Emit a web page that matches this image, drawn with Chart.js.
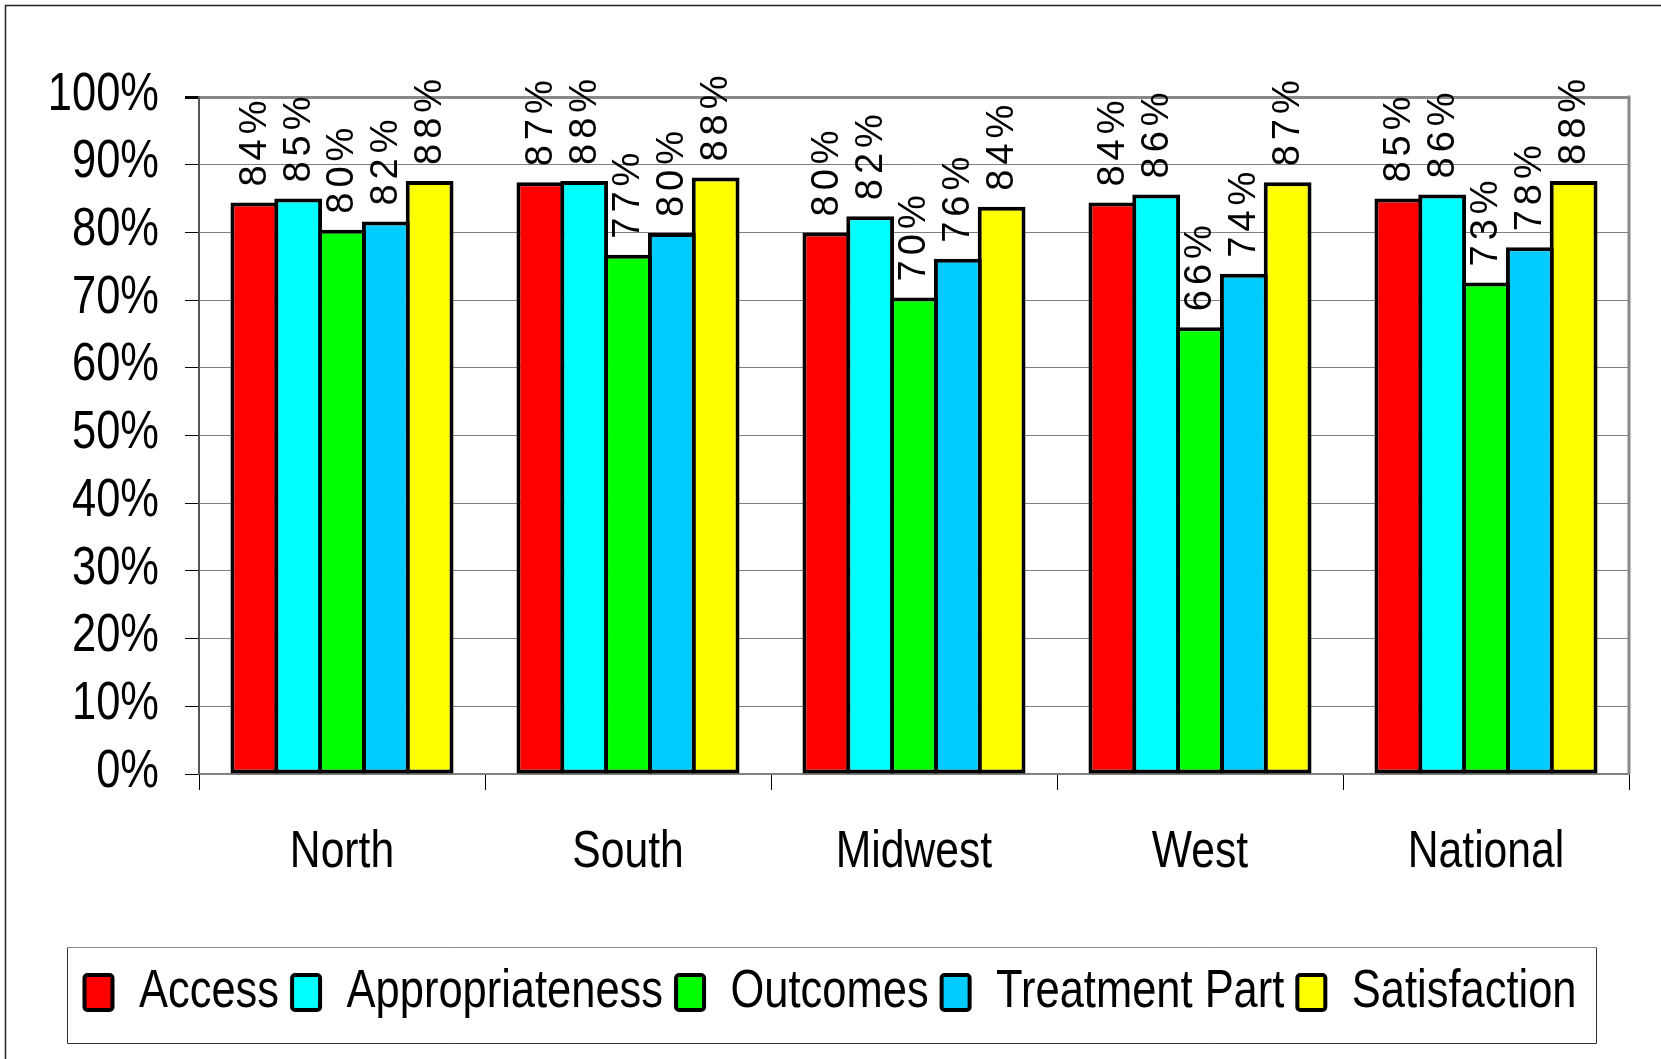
<!DOCTYPE html>
<html>
<head>
<meta charset="utf-8">
<title>Scores by region</title>
<script src="https://cdn.jsdelivr.net/npm/chart.js@4.4.1/dist/chart.umd.min.js"></script>
<style>
  html, body { margin: 0; padding: 0; background: #fff; }
  #chart { display: block; }
</style>
</head>
<body>
<canvas id="chart" width="1661" height="1059"></canvas>
<script>
const regions = ["North", "South", "Midwest", "West", "National"];
const seriesNames = ["Access", "Appropriateness", "Outcomes", "Treatment Part", "Satisfaction"];

// percent values
const access = [84.4, 87.4, 80.0, 84.4, 85.0];
const appropriateness = [85.0, 87.6, 82.4, 85.6, 85.6];
const outcomes = [80.4, 76.7, 70.4, 66.0, 72.6];
const treatmentPart = [81.6, 79.9, 76.1, 73.9, 77.8];
const satisfaction = [87.6, 88.1, 83.8, 87.4, 87.6];

const yMin = 0;
const yMax = 100;
const yStep = 10;

const seriesColors = ["#ff0000", "#00ffff", "#00ff00", "#00ccff", "#ffff00"];

// no Arial Narrow in the sandbox: fake it by squeezing Liberation Sans
const NARROW = "'Liberation Sans Narrow', 'Arial Narrow', 'Liberation Sans', Arial, sans-serif";
const REGULAR = "'Liberation Sans', Arial, sans-serif";
const SQUEEZE = 0.82;

const proto = CanvasRenderingContext2D.prototype;
const baseFillText = proto.fillText;
const baseMeasureText = proto.measureText;
proto.fillText = function (text, x, y, maxWidth) {
  if (!this.font.includes("Narrow")) return baseFillText.call(this, text, x, y, maxWidth);
  this.save();
  this.translate(x, y);
  this.scale(SQUEEZE, 1);
  baseFillText.call(this, text, 0, 0);
  this.restore();
};
proto.measureText = function (text) {
  const m = baseMeasureText.call(this, text);
  if (!this.font.includes("Narrow")) return m;
  return {
    width: m.width * SQUEEZE,
    actualBoundingBoxLeft: m.actualBoundingBoxLeft * SQUEEZE,
    actualBoundingBoxRight: m.actualBoundingBoxRight * SQUEEZE,
    actualBoundingBoxAscent: m.actualBoundingBoxAscent,
    actualBoundingBoxDescent: m.actualBoundingBoxDescent
  };
};

const seriesData = [access, appropriateness, outcomes, treatmentPart, satisfaction];

const datasets = seriesNames.map((name, i) => ({
  label: name,
  data: seriesData[i],
  backgroundColor: seriesColors[i],
  borderColor: "#000",
  borderWidth: 4,
  borderSkipped: false,
  categoryPercentage: 0.766,
  barPercentage: 1.091
}));

// outer frame, plot area right edge, legend frame
const framePlugin = {
  id: "frame",
  beforeDraw(chart) {
    const ctx = chart.ctx;
    ctx.save();
    ctx.fillStyle = "#fff";
    ctx.fillRect(0, 0, chart.width, chart.height);
    ctx.strokeStyle = "#222";
    ctx.lineWidth = 1.5;
    ctx.beginPath();
    ctx.moveTo(5.5, chart.height + 5);
    ctx.lineTo(5.5, 5.5);
    ctx.lineTo(chart.width + 5, 5.5);
    ctx.stroke();
    ctx.restore();
  },
  beforeDatasetsDraw(chart) {
    const { ctx, chartArea } = chart;
    ctx.save();
    ctx.strokeStyle = "#888";
    ctx.lineWidth = 3;
    ctx.beginPath();
    ctx.moveTo(chartArea.right, chartArea.top - 1.5);
    ctx.lineTo(chartArea.right, chartArea.bottom);
    ctx.stroke();
    ctx.restore();
  },
  afterDraw(chart) {
    const boxes = chart.legend.legendHitBoxes;
    if (!boxes || !boxes.length) return;
    const first = boxes[0];
    const last = boxes[boxes.length - 1];
    const cy = first.top + first.height / 2;
    const left = Math.round(first.left - 18) + 0.5;
    const right = Math.round(last.left + last.width + 20) + 0.5;
    const top = Math.round(cy - 46) + 0.5;
    const bottom = Math.round(cy + 50) + 0.5;
    const ctx = chart.ctx;
    ctx.save();
    ctx.lineWidth = 1;
    ctx.strokeStyle = "#333";
    ctx.beginPath();
    ctx.moveTo(left, top);
    ctx.lineTo(left, bottom);
    ctx.lineTo(right, bottom);
    ctx.lineTo(right, top);
    ctx.stroke();
    ctx.strokeStyle = "#888";
    ctx.beginPath();
    ctx.moveTo(left, top);
    ctx.lineTo(right, top);
    ctx.stroke();
    ctx.restore();
  }
};

// rotated value labels above each bar
const valueLabels = {
  id: "valueLabels",
  afterDatasetsDraw(chart) {
    const ctx = chart.ctx;
    ctx.save();
    ctx.font = "38px " + REGULAR;
    ctx.fillStyle = "#000";
    ctx.textAlign = "left";
    ctx.textBaseline = "middle";
    chart.data.datasets.forEach((ds, i) => {
      chart.getDatasetMeta(i).data.forEach((bar, j) => {
        const text = Math.round(ds.data[j]) + "%";
        ctx.save();
        ctx.translate(bar.x + 1, bar.y - 16);
        ctx.rotate(-Math.PI / 2);
        let x = 0;
        for (const ch of text) {
          ctx.fillText(ch, x, 0);
          x += ctx.measureText(ch).width + 5;
        }
        ctx.restore();
      });
    });
    ctx.restore();
  }
};

new Chart(document.getElementById("chart"), {
  type: "bar",
  data: {
    labels: regions,
    datasets: datasets
  },
  options: {
    responsive: false,
    animation: false,
    devicePixelRatio: 1,
    layout: {
      padding: { top: 97, right: 32, bottom: 30, left: 32 }
    },
    plugins: {
      tooltip: { enabled: false },
      legend: {
        position: "bottom",
        labels: {
          color: "#000",
          font: { family: NARROW, size: 53 },
          boxWidth: 28,
          boxHeight: 35,
          padding: 13,
          useBorderRadius: true,
          borderRadius: 3
        }
      }
    },
    scales: {
      x: {
        offset: true,
        grid: {
          offset: true,
          drawOnChartArea: false,
          drawTicks: true,
          tickLength: 16,
          tickColor: "#000",
          lineWidth: 1
        },
        border: { display: true, color: "#808080", width: 2 },
        ticks: {
          color: "#000",
          font: { family: NARROW, size: 52 },
          padding: 31,
          maxRotation: 0
        },
        afterFit(scale) {
          scale.height = 179;
        }
      },
      y: {
        min: yMin,
        max: yMax,
        ticks: {
          stepSize: yStep,
          autoSkip: false,
          color: "#000",
          font: { family: NARROW, size: 53, lineHeight: 1 },
          padding: 26,
          labelOffset: -2,
          callback: (value) => `${value}%`
        },
        grid: {
          color: (c) => (c.tick && c.tick.value === yMax ? "#888" : "#808080"),
          lineWidth: (c) => (c.tick && c.tick.value === yMax ? 3 : 1),
          tickLength: 14,
          tickColor: "#000"
        },
        border: { display: true, color: "#555", width: 2 },
        afterFit(scale) {
          scale.width = 167;
        }
      }
    }
  },
  plugins: [framePlugin, valueLabels]
});
</script>
</body>
</html>
